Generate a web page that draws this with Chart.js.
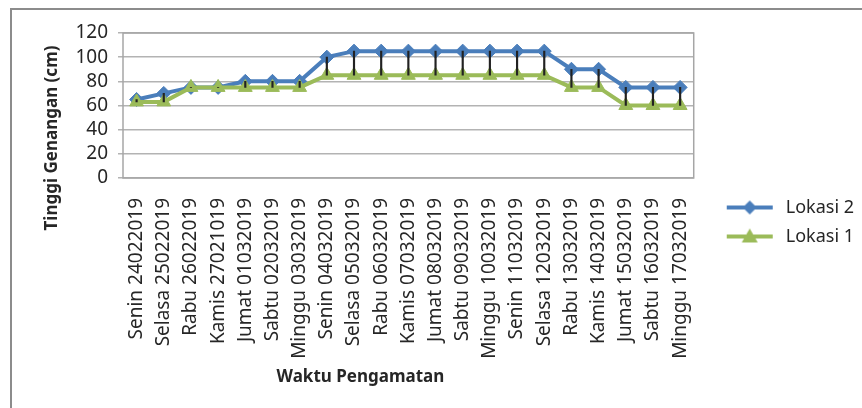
<!DOCTYPE html>
<html lang="id">
<head>
  <meta charset="UTF-8">
  <title>Tinggi Genangan</title>
  <script src="https://cdn.jsdelivr.net/npm/chart.js"></script>
  <style>
    html, body {
      margin: 0;
      padding: 0;
      background: #fff;
      overflow: hidden;
    }

    .frame {
      position: absolute;
      left: 10px;
      top: 8px;
      width: 900px;
      height: 460px;
      border-left: 2px solid #8c8c8c;
      border-top: 2px solid #8c8c8c;
    }

    canvas {
      position: absolute;
      left: 0;
      top: 0;
    }
  </style>
</head>
<body>

  <div class="frame"></div>
  <canvas id="chart" width="864" height="411"></canvas>

  <script>
    const labels = [
      'Senin 24022019', 'Selasa 25022019', 'Rabu 26022019', 'Kamis 27021019',
      'Jumat 01032019', 'Sabtu 02032019', 'Minggu 03032019', 'Senin 04032019',
      'Selasa 05032019', 'Rabu 06032019', 'Kamis 07032019', 'Jumat 08032019',
      'Sabtu 09032019', 'Minggu 10032019', 'Senin 11032019', 'Selasa 12032019',
      'Rabu 13032019', 'Kamis 14032019', 'Jumat 15032019', 'Sabtu 16032019',
      'Minggu 17032019'
    ];
    const lokasi2 = [65, 70, 75, 75, 80, 80, 80, 100, 105, 105, 105, 105, 105, 105, 105, 105, 90, 90, 75, 75, 75];
    const lokasi1 = [63, 63, 75, 75, 75, 75, 75, 85, 85, 85, 85, 85, 85, 85, 85, 85, 75, 75, 60, 60, 60];
    const yMin = 0;
    const yMax = 120;
    const yStep = 20;

    const BLUE = '#4a7ebb';
    const GREEN = '#9bbb59';
    const FONT = "'Noto Sans', sans-serif";

    // high-low lines between the two series
    const hiLow = labels.map((_, i) => [Math.min(lokasi1[i], lokasi2[i]), Math.max(lokasi1[i], lokasi2[i])]);

    function legendMark(color, style) {
      const c = document.createElement('canvas');
      c.width = 72;
      c.height = 18;
      const g = c.getContext('2d');
      g.strokeStyle = color;
      g.lineWidth = 4;
      g.beginPath();
      g.moveTo(22, 9);
      g.lineTo(68, 9);
      g.stroke();
      g.fillStyle = color;
      g.beginPath();
      if (style === 'diamond') {
        g.moveTo(45, 2); g.lineTo(52, 9); g.lineTo(45, 16); g.lineTo(38, 9);
      } else {
        g.moveTo(45, 1); g.lineTo(53, 15); g.lineTo(37, 15);
      }
      g.closePath();
      g.fill();
      return c;
    }

    const plotFrame = {
      id: 'plotFrame',
      beforeDatasetsDraw(chart) {
        const a = chart.chartArea, ctx = chart.ctx;
        ctx.save();
        ctx.strokeStyle = '#a6a6a6';
        ctx.lineWidth = 1.5;
        ctx.strokeRect(a.left, a.top, a.right - a.left, a.bottom - a.top);
        ctx.restore();
      }
    };

    const axisTitles = {
      id: 'axisTitles',
      afterDraw(chart) {
        const ctx = chart.ctx, xs = chart.scales.x, ys = chart.scales.y;
        ctx.save();
        ctx.fillStyle = '#262626';
        ctx.font = 'bold 17px ' + FONT;
        ctx.textAlign = 'center';
        ctx.textBaseline = 'middle';
        ctx.fillText('Waktu Pengamatan', xs.left + xs.width * 0.416, xs.top + 199);
        ctx.translate(ys.left + 52, ys.top + 105);
        ctx.rotate(-Math.PI / 2);
        ctx.fillText('Tinggi Genangan (cm)', 0, 0);
        ctx.restore();
      }
    };

    new Chart(document.getElementById('chart'), {
      data: {
        labels: labels,
        datasets: [
          {
            type: 'line',
            label: 'Lokasi 2',
            data: lokasi2,
            borderColor: BLUE,
            backgroundColor: BLUE,
            borderWidth: 4,
            pointStyle: 'rectRot',
            pointRadius: 7,
            pointBorderWidth: 1,
            tension: 0,
            order: 3
          },
          {
            type: 'line',
            label: 'Lokasi 1',
            data: lokasi1,
            borderColor: GREEN,
            backgroundColor: GREEN,
            borderWidth: 4,
            pointStyle: 'triangle',
            pointRadius: 8,
            pointBorderWidth: 1,
            tension: 0,
            order: 2
          },
          {
            type: 'bar',
            label: 'hilo',
            data: hiLow,
            backgroundColor: '#222',
            barThickness: 1.5,
            order: 1
          }
        ]
      },
      options: {
        responsive: false,
        animation: false,
        layout: { padding: { top: 33, left: 0, right: 0, bottom: 0 } },
        plugins: {
          tooltip: { enabled: false },
          legend: {
            position: 'right',
            labels: {
              usePointStyle: true,
              pointStyleWidth: 72,
              padding: 11,
              color: '#262626',
              font: { family: FONT, size: 18 },
              generateLabels(chart) {
                return [
                  { text: 'Lokasi 2', pointStyle: legendMark(BLUE, 'diamond'), datasetIndex: 0, fontColor: '#262626' },
                  { text: 'Lokasi 1', pointStyle: legendMark(GREEN, 'triangle'), datasetIndex: 1, fontColor: '#262626' }
                ];
              }
            }
          }
        },
        scales: {
          x: {
            offset: true,
            grid: { display: false, drawTicks: false },
            border: { display: false },
            ticks: {
              minRotation: 90,
              maxRotation: 90,
              autoSkip: false,
              padding: 20,
              color: '#262626',
              font: { family: FONT, size: 19 }
            },
            afterFit(s) { s.height = 233; }
          },
          y: {
            min: yMin,
            max: yMax,
            grid: { color: '#b3b3b3', lineWidth: 1.5, tickLength: 5 },
            border: { display: false },
            ticks: {
              stepSize: yStep,
              autoSkip: false,
              padding: 10,
              color: '#262626',
              font: { family: FONT, size: 19 }
            },
            afterFit(s) { s.width = 123; }
          }
        }
      },
      plugins: [plotFrame, axisTitles]
    });
  </script>

</body>
</html>
